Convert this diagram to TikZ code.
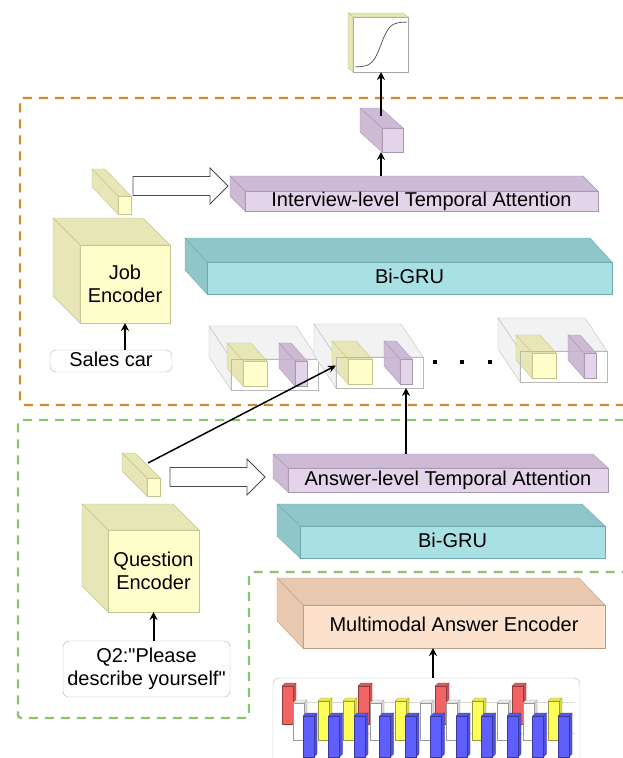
\documentclass[tikz,border=0pt]{standalone}
\usepackage{fontspec}
\setmainfont{Liberation Sans}[Ligatures=TeXOff]
\usetikzlibrary{arrows.meta,calc}

\definecolor{yelfront}{HTML}{FFFFCC}
\definecolor{yelside}{HTML}{E6E6B6}
\definecolor{yelline}{HTML}{C4C48C}
\definecolor{purfront}{HTML}{E3D4E9}
\definecolor{purside}{HTML}{CDBAD5}
\definecolor{purline}{HTML}{A895B0}
\definecolor{tealfront}{HTML}{A9E0E3}
\definecolor{tealside}{HTML}{8EC6C9}
\definecolor{tealline}{HTML}{6FA8AB}
\definecolor{peachfront}{HTML}{FCE1CC}
\definecolor{peachside}{HTML}{E8C9B0}
\definecolor{peachline}{HTML}{B89B86}
\definecolor{orangedash}{HTML}{D08A2A}
\definecolor{greendash}{HTML}{8CC46E}
\definecolor{barred}{HTML}{F26464}
\definecolor{baryel}{HTML}{FFFF5C}
\definecolor{barblue}{HTML}{5F5FFF}

\tikzset{
  face/.style={draw, outer sep=0pt, inner sep=0pt, align=center,
    font=\fontsize{20}{23}\selectfont, text height=14pt, text depth=4pt},
  yelface/.style={face, fill=yelfront, draw=yelline},
  purface/.style={face, fill=purfront, draw=purline},
  tealface/.style={face, fill=tealfront, draw=tealline},
  peachface/.style={face, fill=peachfront, draw=peachline},
  whiteface/.style={face, fill=white, draw=gray!70},
  grayface/.style={face, draw=gray!55},
  yelsidefill/.style={fill=yelside, draw=yelline},
  pursidefill/.style={fill=purside, draw=purline},
  tealsidefill/.style={fill=tealside, draw=tealline},
  peachsidefill/.style={fill=peachside, draw=peachline},
  graysidefill/.style={fill=gray!10, draw=gray!55},
  textbox/.style={draw=gray!60, rounded corners=6pt, fill=white, outer sep=0pt,
    inner sep=0pt, align=center, font=\fontsize{20}{23}\selectfont},
  arr/.style={-{Stealth[length=8pt,width=8pt]}, line width=2pt},
  thinarr/.style={-{Stealth[length=8pt,width=7pt]}, line width=1.5pt},
  hollow/.style={draw=black!70, fill=white, line width=0.8pt, line join=miter},
  regiondash/.style={line width=2.4pt, dash pattern=on 9pt off 7pt, rounded corners=3pt}
}

% top and left faces behind a front face node
\newcommand{\extrude}[4]{%
  \filldraw[#4] (#1.north west) -- ++(-#2,-#3) -- ([shift={(-#2,-#3)}]#1.north east) -- (#1.north east) -- cycle;
  \filldraw[#4] (#1.north west) -- ++(-#2,-#3) -- ([shift={(-#2,-#3)}]#1.south west) -- (#1.south west) -- cycle;
}
\newcommand{\fatarrow}[2]{%
  \draw[hollow] let \p1=(#1), \p2=(#2) in
    ({\x1},{\y1+9.5pt}) -- ({\x2-18pt},{\y1+9.5pt}) -- ({\x2-18pt},{\y1+18pt}) -- ({\x2},{\y1})
    -- ({\x2-18pt},{\y1-18pt}) -- ({\x2-18pt},{\y1-9.5pt}) -- ({\x1},{\y1-9.5pt}) -- cycle;
}
\newcommand{\chartbar}[4]{%
  \filldraw[fill=#4!85!black, draw=#4!60!black, line width=0.3pt] ({#1+11},{#2}) -- ++(3,-3) -- ({#1+14},{#3-3}) -- ({#1+11},{#3}) -- cycle;
  \filldraw[fill=#4!92!black, draw=#4!60!black, line width=0.3pt] ({#1},{#2}) -- ++(3,-3) -- ++(11,0) -- ({#1+11},{#2}) -- cycle;
  \filldraw[fill=#4, draw=#4!60!black, line width=0.3pt] ({#1},{#2}) rectangle ({#1+11},{#3});
}

\begin{document}
\begin{tikzpicture}[x=1pt,y=-1pt]
\useasboundingbox (0,0) rectangle (622,758);

% regions
\draw[regiondash, orangedash] (640,98) -- (20,98) -- (20,405) -- (640,405);
\draw[regiondash, greendash] (640,420) -- (18,420) -- (18,718) -- (249,718) -- (249,572) -- (640,572);

% output
\node[whiteface, minimum width=55pt, minimum height=55pt] (sigbox) at (380.5,44.5) {};
\extrude{sigbox}{5}{4}{yelsidefill}
\draw[gray!60!black, line width=0.7pt] plot[domain=0:1, samples=40] ({355+52*\x},{67-45/(1+exp(-12*(\x-0.5)))});

\node[purface, minimum width=21pt, minimum height=24pt] (intvec) at (392.5,140) {};
\extrude{intvec}{22}{20}{pursidefill}

% interview level
\node[purface, minimum width=353pt, minimum height=20pt] (intatt) at (421.5,201) {Interview-level Temporal Attention};
\extrude{intatt}{15}{15}{pursidefill}

\node[tealface, minimum width=405pt, minimum height=32pt] (grutop) at (409.5,278) {Bi-GRU};
\extrude{grutop}{22}{24}{tealsidefill}

\node[yelface, minimum width=90pt, minimum height=78pt, text height=, text depth=] (jobenc) at (125,284) {Job\\Encoder};
\extrude{jobenc}{27}{27}{yelsidefill}

\node[yelface, minimum width=13pt, minimum height=16pt] (jobvec) at (124.5,205) {};
\extrude{jobvec}{26}{27}{yelsidefill}

\node[textbox, minimum width=122pt, minimum height=22pt, text height=14pt, text depth=4pt] (salescar) at (111,361) {Sales car};

\foreach \i/\px/\py in {1/231/359, 2/336/357, 3/520/351} {
  \node[grayface, anchor=north west, minimum width=87pt, minimum height=31pt] (pair\i) at (\px,\py) {};
  \extrude{pair\i}{22}{33}{graysidefill}
  \node[yelface, anchor=north west, minimum width=24pt, minimum height=25pt] (yel\i) at ([shift={(12,2)}]pair\i.north west) {};
  \extrude{yel\i}{16}{18}{yelsidefill}
  \node[purface, anchor=north west, minimum width=12pt, minimum height=25pt] (pur\i) at ([shift={(64,2)}]pair\i.north west) {};
  \extrude{pur\i}{16}{18}{pursidefill}
  \draw[gray!55] (pair\i.north west) rectangle (pair\i.south east);
}
\foreach \x in {435,462,490}
  \fill (\x-2.2,360) rectangle (\x+2.2,364.4);

% answer level
\node[yelface, minimum width=13pt, minimum height=18pt] (quesvec) at (153.5,487) {};
\extrude{quesvec}{25}{25}{yelsidefill}

\node[yelface, minimum width=91pt, minimum height=82pt, text height=, text depth=] (quesenc) at (153.5,571) {Question\\Encoder};
\extrude{quesenc}{26}{26}{yelsidefill}

\node[textbox, minimum width=167pt, minimum height=56pt] (question) at (146.5,669) {Q2:"Please\\describe yourself"};

\node[purface, minimum width=320pt, minimum height=24pt] (ansatt) at (448,480) {Answer-level Temporal Attention};
\extrude{ansatt}{15}{14}{pursidefill}

\node[tealface, minimum width=305pt, minimum height=32pt] (grubot) at (452.5,542) {Bi-GRU};
\extrude{grubot}{23}{22}{tealsidefill}

\node[peachface, minimum width=302pt, minimum height=43pt] (mmenc) at (454,626.5) {Multimodal Answer Encoder};
\extrude{mmenc}{26}{27}{peachsidefill}

% multimodal input
\node[textbox, anchor=north west, minimum width=307pt, minimum height=100pt] (bars) at (273,678) {};
\draw[gray!30, line width=0.5pt] (290,702) -- (575,702) (300,733) -- (575,733);
\foreach \x in {282,358,435,512} {\chartbar{\x}{686}{724}{barred}}
\foreach \x in {293,370,420,446,497,523} {\chartbar{\x}{703}{740}{white}}
\foreach \x in {318,343,395,472,548} {\chartbar{\x}{701}{740}{baryel}}
\foreach \k [evaluate=\k as \x using 303+25.5*\k] in {0,...,10} {\chartbar{\x}{716}{757}{barblue}}

% connectors
\fatarrow{$(jobvec.north east)+(2,-10)$}{$(intatt.west)+(-17,-14)$}
\fatarrow{$(quesvec.north east)+(10,-1)$}{$(ansatt.west)+(-23,-3)$}

\coordinate (intbase) at ([yshift=15pt]intatt.north -| intvec.south west);
\draw[arr] ([xshift=-1pt]intbase) -- ([xshift=-1pt]intvec.south west);
\coordinate (vecout) at ([shift={(-1,-12)}]intvec.north west);
\draw[arr] (vecout) -- (vecout |- sigbox.south);
\draw[arr] (salescar.north -| jobenc.south) -- (jobenc.south);
\draw[arr] (question.north -| quesenc.south) -- (quesenc.south);
\coordinate (ansbase) at ([yshift=14pt]ansatt.north -| pur2.south);
\draw[arr] (ansbase) -- (pair2.south -| pur2.south);
\draw[thinarr] ([shift={(-12,-15)}]quesvec.north east) -- ([shift={(-12,-6)}]yel2.west);
\coordinate (barsout) at ([xshift=6.5pt]bars.north);
\draw[arr] (barsout) -- (barsout |- mmenc.south);

\end{tikzpicture}
\end{document}
